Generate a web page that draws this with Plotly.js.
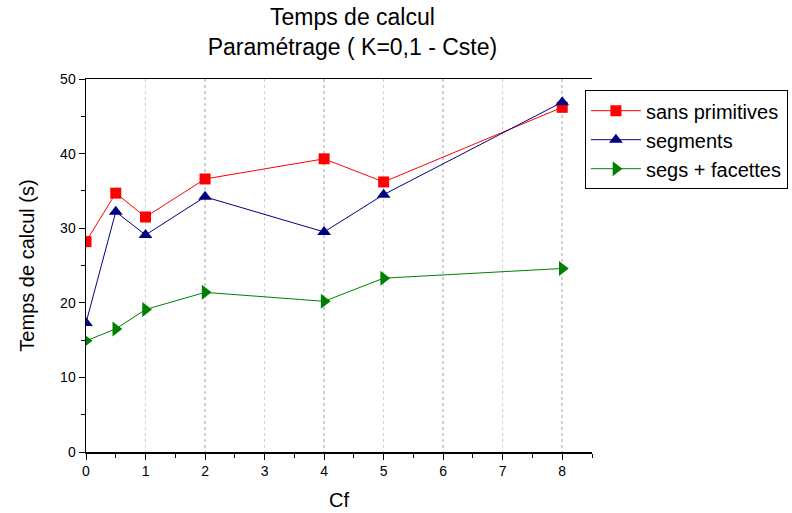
<!DOCTYPE html>
<html><head><meta charset="utf-8">
<script src="https://cdn.plot.ly/plotly-3.0.1.min.js"></script>
<style>html,body{margin:0;padding:0;background:#fff;}#chart{width:792px;height:513px;}</style>
</head><body><div id="chart"></div>
<script>
const cf = [0, 0.5, 1, 2, 4, 5, 8];
const sansPrimitives = [28.2, 34.7, 31.5, 36.6, 39.3, 36.2, 46.2];
const segments = [17.3, 32.2, 29.1, 34.2, 29.5, 34.5, 46.9];
const segsFacettes = [14.9, 16.5, 19.1, 21.4, 20.2, 23.3, 24.6];
const seriesNames = ['sans primitives', 'segments', 'segs + facettes'];

const F = 'Liberation Sans, Arial, sans-serif';
const traces = [
  {x: cf, y: sansPrimitives, name: seriesNames[0], mode: 'lines+markers',
   line: {color: '#ff0000', width: 1}, marker: {symbol: 'square', size: 11, color: '#ff0000'}},
  {x: cf, y: segments, name: seriesNames[1], mode: 'lines+markers',
   line: {color: '#000080', width: 1}, marker: {symbol: 'triangle-up', size: 12, color: '#000080'}},
  {x: cf, y: segsFacettes, name: seriesNames[2], mode: 'lines+markers',
   line: {color: '#008000', width: 1}, marker: {symbol: 'triangle-right', size: 13, color: '#008000'}}
];
const layout = {
  width: 792, height: 513,
  margin: {l: 86, r: 200, t: 79, b: 61, autoexpand: false},
  paper_bgcolor: '#fff', plot_bgcolor: '#fff',
  font: {family: F, color: '#000'},
  title: {text: 'Temps de calcul<br>Paramétrage ( K=0,1 - Cste)', font: {size: 23, family: F},
          x: 0.445, xref: 'container', xanchor: 'center', yref: 'container', y: 0.952, yanchor: 'middle'},
  xaxis: {range: [0, 8.5], tickmode: 'linear', tick0: 0, dtick: 1, ticks: 'outside', ticklen: 6,
          tickwidth: 1, tickcolor: '#000', showline: true, linecolor: '#000', linewidth: 1.5,
          mirror: true, zeroline: false, showgrid: true, gridcolor: '#cfcfcf', griddash: 'dot', gridwidth: 1.5,
          minor: {dtick: 0.5, ticks: 'outside', ticklen: 4, tickcolor: '#000', showgrid: false},
          tickfont: {size: 14, family: F},
          title: {text: 'Cf', font: {size: 20, family: F}, standoff: 14}},
  yaxis: {range: [0, 50], tickmode: 'linear', tick0: 0, dtick: 10, ticks: 'outside', ticklen: 6,
          tickwidth: 1, tickcolor: '#000', showline: true, linecolor: '#000', linewidth: 1.5,
          zeroline: false, showgrid: false,
          minor: {dtick: 5, ticks: 'outside', ticklen: 4, tickcolor: '#000', showgrid: false},
          tickfont: {size: 14, family: F},
          title: {text: 'Temps de calcul (s)', font: {size: 20, family: F}, standoff: 20}},
  showlegend: true,
  legend: {x: 0.986, xanchor: 'left', y: 0.97, yanchor: 'top', bgcolor: '#fff',
           bordercolor: '#000', borderwidth: 1, font: {size: 20, family: F},
           itemwidth: 50, tracegroupgap: 0}
};
Plotly.newPlot('chart', traces, layout, {staticPlot: true});
</script></body></html>
